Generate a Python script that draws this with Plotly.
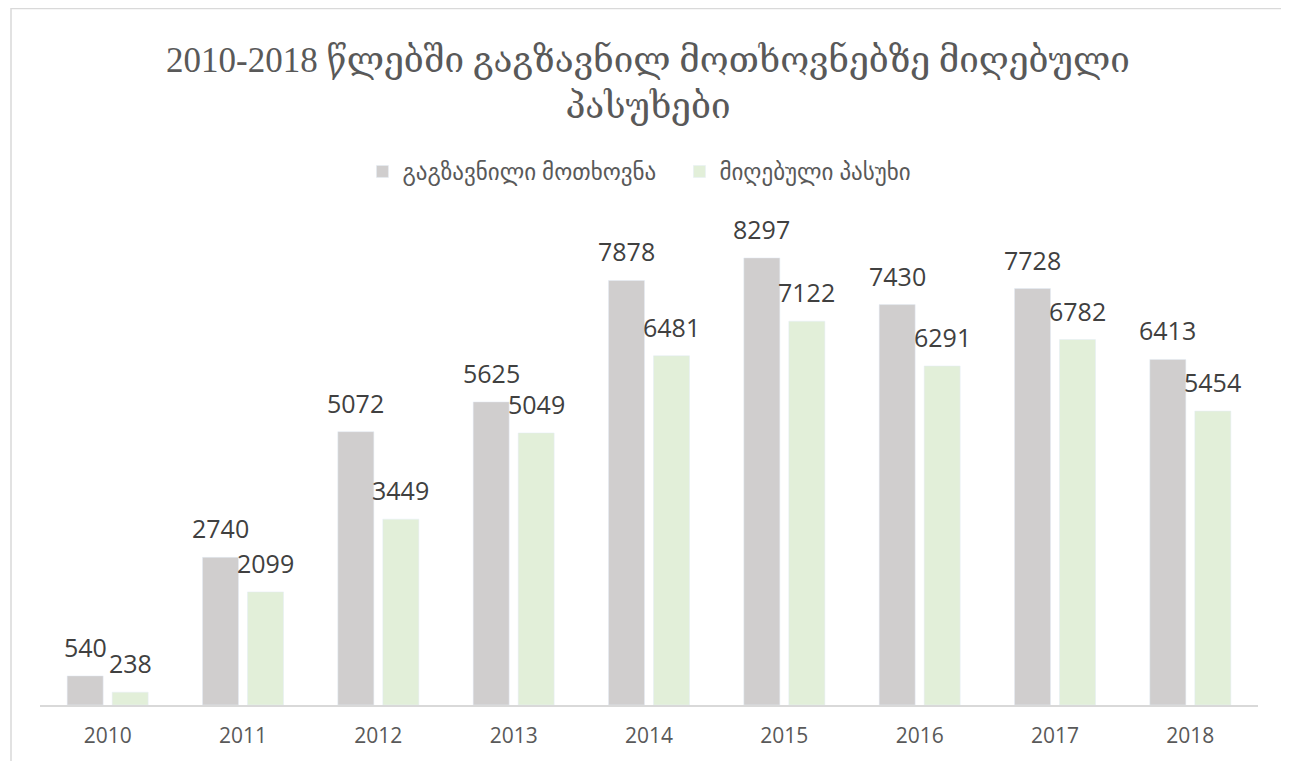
import plotly.graph_objects as go

years = ["2010", "2011", "2012", "2013", "2014", "2015", "2016", "2017", "2018"]
sent_requests = [540, 2740, 5072, 5625, 7878, 8297, 7430, 7728, 6413]
received_answers = [238, 2099, 3449, 5049, 6481, 7122, 6291, 6782, 5454]

series_names = ["გაგზავნილი მოთხოვნა", "მიღებული პასუხი"]
title_text = "2010-2018 წლებში გაგზავნილ მოთხოვნებზე მიღებული<br>პასუხები"

GREY = "#d0cece"
GREEN = "#e2efd9"
SANS = "Open Sans, DejaVu Sans, sans-serif"
LABEL_FONT = dict(family=SANS, size=25, color="#404040")

fig = go.Figure()
fig.add_trace(go.Bar(x=years, y=sent_requests, name=series_names[0], marker_color=GREY))
fig.add_trace(go.Bar(x=years, y=received_answers, name=series_names[1], marker_color=GREEN))

# data labels above each bar, nudged into the bar's slot of the group
# (annotations on a category axis take the category's serial number)
for values, shift in ((sent_requests, -22.5), (received_answers, 22.5)):
    for i, v in enumerate(values):
        fig.add_annotation(
            x=i, y=v, text=str(v), showarrow=False,
            xanchor="center", yanchor="bottom", xshift=shift, yshift=10,
            font=LABEL_FONT,
        )

# light chart-area border
fig.add_shape(
    type="rect", xref="paper", yref="paper",
    x0=-0.0238, x1=1.0230, y0=-0.2, y1=1.436,
    line=dict(color="#d9d9d9", width=1.5), layer="below",
)

# page body has an 8px margin, so the figure is 8px smaller than the window
fig.update_layout(
    width=1281,
    height=753,
    margin=dict(l=32, r=31, t=212, b=56),
    paper_bgcolor="white",
    plot_bgcolor="white",
    barmode="group",
    bargap=0.335,
    bargroupgap=0.2,
    title=dict(
        text=title_text,
        x=0.4996, xanchor="center",
        y=0.915, yanchor="top",
        font=dict(family="Liberation Serif, DejaVu Serif, serif", size=35, color="#595959"),
    ),
    legend=dict(
        orientation="h",
        x=0.525, xanchor="center",
        y=1.1, yanchor="middle",
        font=dict(family=SANS, size=23, color="#595959"),
        itemwidth=30,
        entrywidth=272,
        entrywidthmode="pixels",
        traceorder="normal",
    ),
    showlegend=True,
    xaxis=dict(
        type="category",
        range=[-0.5, len(years) - 0.5],
        showline=True, linecolor="#d9d9d9", linewidth=1.5,
        tickfont=dict(family=SANS, size=21, color="#595959"),
        ticklabelstandoff=11,
        showgrid=False,
    ),
    yaxis=dict(range=[0, 9000], visible=False, showgrid=False),
)

fig.write_html("out.html")
